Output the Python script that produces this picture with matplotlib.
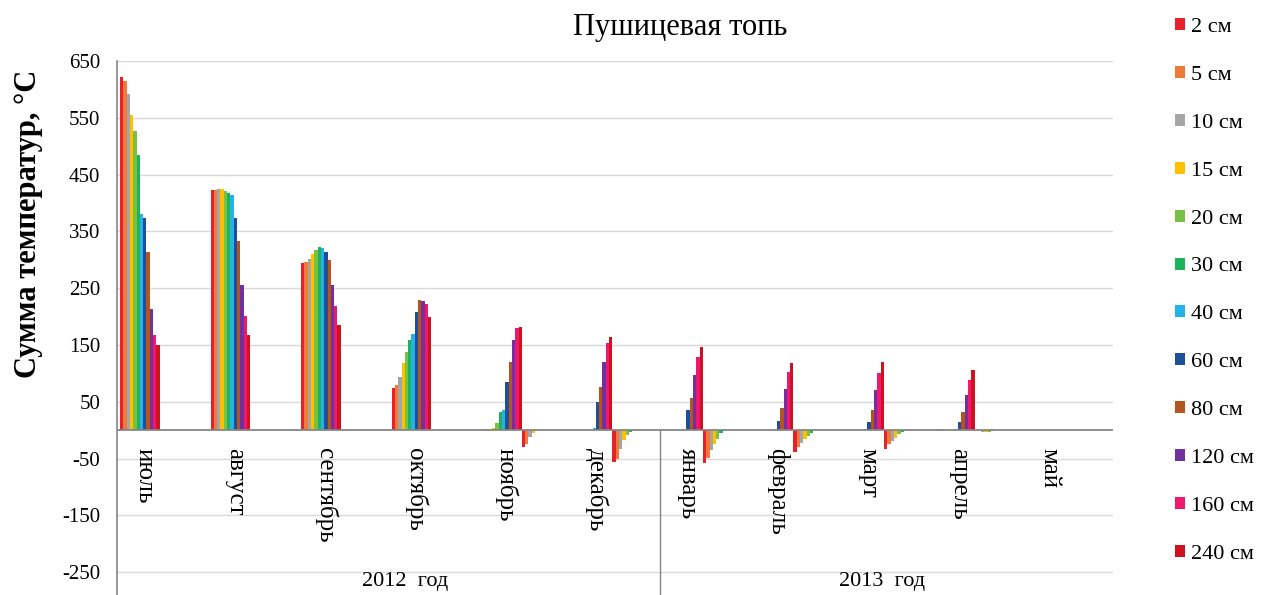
import matplotlib
matplotlib.use('Agg')
import matplotlib.pyplot as plt
from matplotlib.patches import Patch
import numpy as np

plt.rcParams['font.family'] = ['Liberation Serif', 'DejaVu Serif']
plt.rcParams['axes.unicode_minus'] = False

# месяцы и глубины
months = ['июль', 'август', 'сентябрь', 'октябрь', 'ноябрь', 'декабрь',
          'январь', 'февраль', 'март', 'апрель', 'май']
years = ['2012  год', '2013  год']
depths = ['2 см', '5 см', '10 см', '15 см', '20 см', '30 см',
          '40 см', '60 см', '80 см', '120 см', '160 см', '240 см']
colors = ['#E8202A', '#F07A3A', '#A5A5A5', '#FFC000', '#7AC143', '#1DB35C',
          '#25B2E8', '#1F4E9A', '#B5541C', '#7030A0', '#F0186E', '#D0121F']

# сумма положительных температур по глубинам (июль .. май)
pos_2 = [621, 423, 294, 74, 2, 0, 0, 0, 0, 3, 0]
pos_5 = [615, 423, 296, 79, 3, 0, 0, 0, 0, 3, 0]
pos_10 = [592, 424, 302, 93, 2, 0, 0, 0, 0, 2, 0]
pos_15 = [555, 424, 311, 118, 4, 0, 0, 0, 0, 1, 0]
pos_20 = [527, 422, 317, 138, 12, 0, 0, 0, 0, 0, 0]
pos_30 = [484, 417, 322, 158, 33, 0, 0, 0, 0, 0, 0]
pos_40 = [380, 415, 320, 170, 36, 4, 3, 2, 2, 2, 0]
pos_60 = [373, 373, 314, 208, 85, 49, 35, 17, 14, 14, 0]
pos_80 = [313, 334, 299, 229, 120, 76, 56, 40, 35, 33, 0]
pos_120 = [213, 255, 255, 228, 158, 120, 97, 73, 70, 62, 0]
pos_160 = [168, 202, 218, 222, 180, 153, 129, 102, 100, 88, 0]
pos_240 = [150, 167, 186, 200, 182, 165, 147, 118, 121, 106, 0]

# сумма отрицательных температур
neg_2 = [0, 0, 0, 0, -30, -56, -57, -38, -33, 0, 0]
neg_5 = [0, 0, 0, 0, -25, -50, -48, -30, -25, 0, 0]
neg_10 = [0, 0, 0, 0, -12, -33, -35, -22, -19, -3, 0]
neg_15 = [0, 0, 0, 0, -5, -18, -25, -16, -13, -3, 0]
neg_20 = [0, 0, 0, 0, -2, -9, -16, -10, -7, -3, 0]
neg_30 = [0, 0, 0, 0, 0, -3, -5, -4, -3, -2, 0]
neg_40 = [0, 0, 0, 0, 0, 0, -2, 0, 0, 0, 0]
neg_60 = [0] * 11
neg_80 = [0] * 11
neg_120 = [0] * 11
neg_160 = [0] * 11
neg_240 = [0] * 11

pos_series = [pos_2, pos_5, pos_10, pos_15, pos_20, pos_30,
              pos_40, pos_60, pos_80, pos_120, pos_160, pos_240]
neg_series = [neg_2, neg_5, neg_10, neg_15, neg_20, neg_30,
              neg_40, neg_60, neg_80, neg_120, neg_160, neg_240]

W, H = 1270, 595
fig = plt.figure(figsize=(W / 100, H / 100), dpi=100)
ax = fig.add_axes([117 / W, 0, (1113 - 117) / W, (H - 61) / H])

x = np.arange(len(months))
bw = 0.0365
start = 0.033
n = len(depths)
for k in range(n):
    ax.bar(x - 0.5 + start + k * bw, pos_series[k], width=bw, align='edge',
           color=colors[k], linewidth=0, zorder=3)
    ax.bar(x - 0.5 + start + (n + k) * bw, neg_series[k], width=bw, align='edge',
           color=colors[k], linewidth=0, zorder=3)

ax.set_xlim(-0.5, len(months) - 0.5)
ax.set_ylim(-290, 650)
ax.set_yticks(np.arange(-250, 651, 100))
ax.set_xticks([])
ax.tick_params(axis='y', length=0, pad=12, labelsize=15)
ax.yaxis.grid(True, color='#D9D9D9', linewidth=1)
ax.set_axisbelow(True)
for s in ['top', 'right', 'bottom']:
    ax.spines[s].set_visible(False)
ax.spines['left'].set_color('#868686')
ax.spines['left'].set_linewidth(1.2)
ax.axhline(0, color='#868686', linewidth=1.3, zorder=4)
ax.vlines(5.5, -290, 0, color='#868686', linewidth=1.0, zorder=4)

# подписи месяцев
for i, m in enumerate(months):
    ax.text(i - 0.2, -32, m, rotation=270, ha='center', va='top', fontsize=18)

# подписи годов
ax.text(2.68, -266, years[0], ha='center', va='center', fontsize=16)
ax.text(7.95, -266, years[1], ha='center', va='center', fontsize=16)

fig.text(680 / W, 1 - 28 / H, 'Пушицевая топь', ha='center', va='center', fontsize=22)
fig.text(29 / W, 1 - 224 / H, 'Сумма температур, °C', rotation=90,
         ha='center', va='center', fontsize=22, fontweight='bold')

handles = [Patch(facecolor=c, edgecolor='none') for c in colors]
fig.legend(handles, depths, loc='upper left', bbox_to_anchor=(1175 / W, 1 - 18 / H),
           frameon=False, fontsize=16, labelspacing=1.3, handlelength=0.45,
           handleheight=0.45, handletextpad=0.25, borderpad=0, borderaxespad=0)

fig.savefig('out.png', dpi=100)
plt.close(fig)
